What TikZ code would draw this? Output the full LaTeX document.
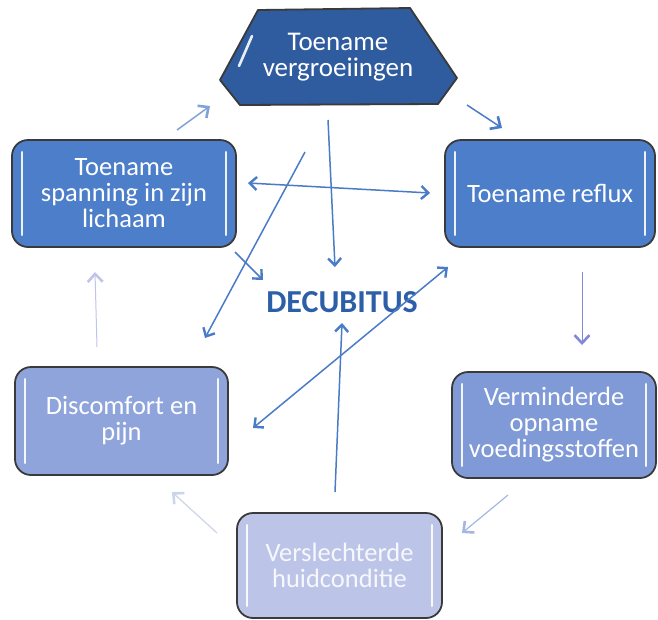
\documentclass[tikz,border=0pt]{standalone}
\usepackage{fontspec}
\setmainfont{Carlito}
\usetikzlibrary{arrows.meta}
\definecolor{hexfill}{HTML}{2F5B9F}
\definecolor{topfill}{HTML}{4D7ECA}
\definecolor{vermfill}{HTML}{7F9AD7}
\definecolor{discfill}{HTML}{8EA4DB}
\definecolor{versfill}{HTML}{BCC5E8}
\definecolor{edge}{HTML}{3A3A3A}
\definecolor{arr}{HTML}{4A7BC6}
\definecolor{deccol}{HTML}{2D5FA8}
\tikzset{
  box/.style={draw=edge, line width=1.8pt, rounded corners=16pt, align=center,
    text=white, font=\fontsize{26.5}{26}\selectfont, inner sep=0pt},
  hl/.style={draw=white, line width=2.6pt, line cap=round, opacity=0.9},
  link/.style={draw=arr, line width=1.5pt, -{Straight Barb[length=7pt,width=13pt,line width=2.4pt]}},
  dlink/.style={draw=arr, line width=1.5pt, {Straight Barb[length=7pt,width=13pt,line width=2.4pt]}-{Straight Barb[length=7pt,width=13pt,line width=2.4pt]}},
  cyc/.style={line width=#1, -{Straight Barb[length=8pt,width=15pt,line width=2.6pt]}},
}
\begin{document}
\begin{tikzpicture}[x=1pt,y=-1pt]
\useasboundingbox (0,0) rectangle (658,619);
% hexagon
\draw[fill=hexfill, draw=edge, line width=1.8pt, line join=round]
  (258,10) -- (410,8) -- (457,78) -- (438,104) -- (240,105) -- (220,80) -- cycle;
\draw[hl] (252,36) -- (239,66);
\node[align=center, text=white, font=\fontsize{27}{26}\selectfont] (hex) at (338,57) {Toename\\vergroeiingen};
% boxes
\node[box, fill=topfill, minimum width=224pt, minimum height=107pt] (span) at (124,193.5) {Toename\\spanning in zijn\\lichaam};
\node[box, fill=topfill, minimum width=210pt, minimum height=107pt] (refl) at (550,193.5) {Toename reflux};
\node[box, fill=vermfill, minimum width=204pt, minimum height=106pt] (verm) at (554,425) {Verminderde\\opname\\voedingsstoffen};
\node[box, fill=discfill, minimum width=213pt, minimum height=108pt] (disc) at (121.5,421) {Discomfort en\\pijn};
\node[box, fill=versfill, text=white!88!versfill, minimum width=205pt, minimum height=105pt] (vers) at (339.5,565.5) {Verslechterde\\huidconditie};
\foreach \n in {span,refl,verm,disc,vers}{
  \draw[hl] ([xshift=11pt,yshift=-13pt]\n.north west) -- ([xshift=11pt,yshift=13pt]\n.south west);
  \draw[hl] ([xshift=-11pt,yshift=-13pt]\n.north east) -- ([xshift=-11pt,yshift=13pt]\n.south east);
}
% centre
\node[text=deccol, font=\fontsize{32}{32}\selectfont\bfseries] (dec) at (342,302) {DECUBITUS};
% arrow end points
\coordinate (h1) at (248,183); \coordinate (h2) at (430,193);
\coordinate (v1) at (328,120); \coordinate (v2) at (335,267);
\coordinate (d1) at (305,152); \coordinate (d2) at (205,338);
\coordinate (s1) at (235,252); \coordinate (s2) at (263,280);
\coordinate (e1) at (253,428); \coordinate (e2) at (448,267);
\coordinate (u1) at (335,492); \coordinate (u2) at (342,323);
\draw[dlink] (h1) -- (h2);
\draw[link] (v1) -- (v2);
\draw[link] (d1) -- (d2);
\draw[link] (s1) -- (s2);
\draw[dlink] (e1) -- (e2);
\draw[link] (u1) -- (u2);
% cycle arrows
\coordinate (c1a) at (177,130); \coordinate (c1b) at (210,106);
\coordinate (c2a) at (467,105); \coordinate (c2b) at (502,128);
\coordinate (c3a) at (582,272); \coordinate (c3b) at (582,345);
\coordinate (c4a) at (508,495); \coordinate (c4b) at (462,533);
\coordinate (c5a) at (217,533); \coordinate (c5b) at (172,492);
\coordinate (c6a) at (97,347); \coordinate (c6b) at (95,272);
\draw[cyc=1.5pt, draw=arr!70] (c1a) -- (c1b);
\draw[cyc=1.5pt, draw=arr] (c2a) -- (c2b);
\draw[cyc=1pt, draw={rgb,255:red,130;green,136;blue,216}] (c3a) -- (c3b);
\draw[cyc=1.2pt, draw={rgb,255:red,165;green,182;blue,226}] (c4a) -- (c4b);
\draw[cyc=1.2pt, draw={rgb,255:red,205;green,212;blue,234}] (c5a) -- (c5b);
\draw[cyc=1pt, draw={rgb,255:red,192;green,196;blue,232}] (c6a) -- (c6b);
\end{tikzpicture}
\end{document}
